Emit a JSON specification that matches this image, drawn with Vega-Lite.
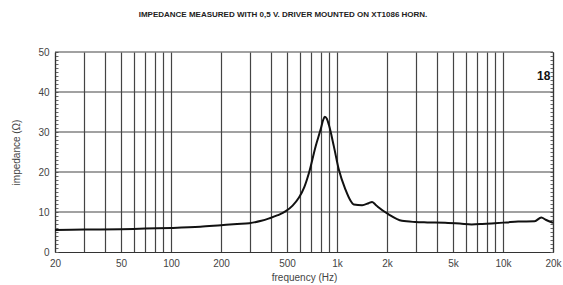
{
  "$schema": "https://vega.github.io/schema/vega-lite/v6.json",
  "width": 498,
  "height": 200,
  "autosize": {"type": "none"},
  "padding": {"left": 55, "top": 52, "right": 10, "bottom": 33},
  "background": "white",
  "title": {
    "text": "IMPEDANCE MEASURED WITH 0,5 V. DRIVER MOUNTED ON XT1086 HORN.",
    "fontSize": 8,
    "fontWeight": "bold",
    "font": "Liberation Sans",
    "color": "#222",
    "offset": 28,
    "dx": -21
  },
  "config": {
    "view": {"stroke": null},
    "font": "Liberation Sans"
  },
  "datasets": {
    "curve": [
      {"f": 20, "z": 5.5},
      {"f": 30, "z": 5.6},
      {"f": 50, "z": 5.7},
      {"f": 70, "z": 5.85},
      {"f": 100, "z": 6.0},
      {"f": 150, "z": 6.3},
      {"f": 200, "z": 6.7},
      {"f": 250, "z": 7.0},
      {"f": 296, "z": 7.2},
      {"f": 350, "z": 7.8},
      {"f": 390, "z": 8.4},
      {"f": 440, "z": 9.2},
      {"f": 491, "z": 10.2},
      {"f": 540, "z": 11.6},
      {"f": 590, "z": 13.6},
      {"f": 635, "z": 16.2},
      {"f": 678, "z": 19.8},
      {"f": 743, "z": 26.4},
      {"f": 796, "z": 30.6},
      {"f": 825, "z": 33.0},
      {"f": 845, "z": 33.8},
      {"f": 868, "z": 33.3},
      {"f": 893, "z": 31.8},
      {"f": 957, "z": 26.4},
      {"f": 1025, "z": 20.6},
      {"f": 1125, "z": 15.6},
      {"f": 1200, "z": 13.0},
      {"f": 1262, "z": 11.9},
      {"f": 1416, "z": 11.7},
      {"f": 1550, "z": 12.2},
      {"f": 1625, "z": 12.5},
      {"f": 1700, "z": 11.9},
      {"f": 1783, "z": 11.1},
      {"f": 2046, "z": 9.4},
      {"f": 2460, "z": 7.8},
      {"f": 2957, "z": 7.5},
      {"f": 3500, "z": 7.4},
      {"f": 4477, "z": 7.3},
      {"f": 5500, "z": 7.1},
      {"f": 6470, "z": 6.9},
      {"f": 7500, "z": 7.0},
      {"f": 8930, "z": 7.2},
      {"f": 10500, "z": 7.4},
      {"f": 12330, "z": 7.6},
      {"f": 15500, "z": 7.7},
      {"f": 17000, "z": 8.6},
      {"f": 18200, "z": 8.0},
      {"f": 20000, "z": 7.3}
    ],
    "hgrid": [{"z": 10}, {"z": 20}, {"z": 30}, {"z": 40}, {"z": 50}],
    "logo": [{"f": 17600, "z": 44, "t": "18"}]
  },
  "layer": [
    {
      "data": {"name": "hgrid"},
      "mark": {"type": "rule", "color": "#444", "strokeWidth": 1.2},
      "encoding": {
        "y": {
          "field": "z",
          "type": "quantitative",
          "scale": {"domain": [0, 50], "nice": false},
          "axis": {
            "orient": "left",
            "title": "impedance (Ω)",
            "titleFont": "Liberation Sans",
            "titleFontWeight": "normal",
            "titleFontSize": 10,
            "titleColor": "#444",
            "titlePadding": 16,
            "values": [0,1,2,3,4,5,6,7,8,9,10,11,12,13,14,15,16,17,18,19,20,21,22,23,24,25,26,27,28,29,30,31,32,33,34,35,36,37,38,39,40,41,42,43,44,45,46,47,48,49,50],
            "labelExpr": "datum.value % 10 === 0 ? datum.value + '' : ''",
            "labelOverlap": false,
            "labelFontSize": 10,
            "labelColor": "#444",
            "labelPadding": 9,
            "tickSize": -3,
            "tickColor": "#666",
            "grid": false,
            "domainColor": "#333",
            "domainWidth": 1.2
          }
        }
      }
    },
    {
      "data": {"name": "curve"},
      "mark": {"type": "line", "color": "#111", "strokeWidth": 2, "interpolate": "monotone"},
      "encoding": {
        "x": {
          "field": "f",
          "type": "quantitative",
          "scale": {"type": "log", "domain": [20, 20000], "nice": false},
          "axis": {
            "title": "frequency (Hz)",
            "titleFont": "Liberation Sans",
            "titleFontWeight": "normal",
            "titleFontSize": 10,
            "titleColor": "#444",
            "titlePadding": 4,
            "values": [20, 30, 40, 50, 60, 70, 80, 90, 100, 200, 300, 400, 500, 600, 700, 800, 900, 1000, 2000, 3000, 4000, 5000, 6000, 7000, 8000, 9000, 10000, 20000],
            "labelExpr": "indexof([20,50,100,200,500,1000,2000,5000,10000,20000], datum.value) >= 0 ? (datum.value >= 1000 ? (datum.value/1000) + 'k' : datum.value + '') : ''",
            "labelFontSize": 10,
            "labelColor": "#444",
            "labelPadding": 6,
            "labelOverlap": false,
            "labelFlush": false,
            "ticks": false,
            "grid": true,
            "gridColor": "#444",
            "gridWidth": 1.2,
            "gridOpacity": 1,
            "domainColor": "#333",
            "domainWidth": 1.2
          }
        },
        "y": {"field": "z", "type": "quantitative", "axis": null}
      }
    },
    {
      "data": {"name": "logo"},
      "mark": {"type": "text", "fontSize": 12, "fontWeight": "bold", "color": "#111", "font": "Liberation Sans"},
      "encoding": {
        "x": {"field": "f", "type": "quantitative"},
        "y": {
          "field": "z",
          "type": "quantitative",
          "axis": {
            "orient": "right",
            "title": null,
            "values": [0,1,2,3,4,5,6,7,8,9,10,11,12,13,14,15,16,17,18,19,20,21,22,23,24,25,26,27,28,29,30,31,32,33,34,35,36,37,38,39,40,41,42,43,44,45,46,47,48,49,50],
            "labels": false,
            "tickSize": -3,
            "tickColor": "#666",
            "grid": false,
            "domainColor": "#333",
            "domainWidth": 1.2
          }
        },
        "text": {"field": "t"}
      }
    }
  ],
  "resolve": {"axis": {"y": "independent"}}
}
